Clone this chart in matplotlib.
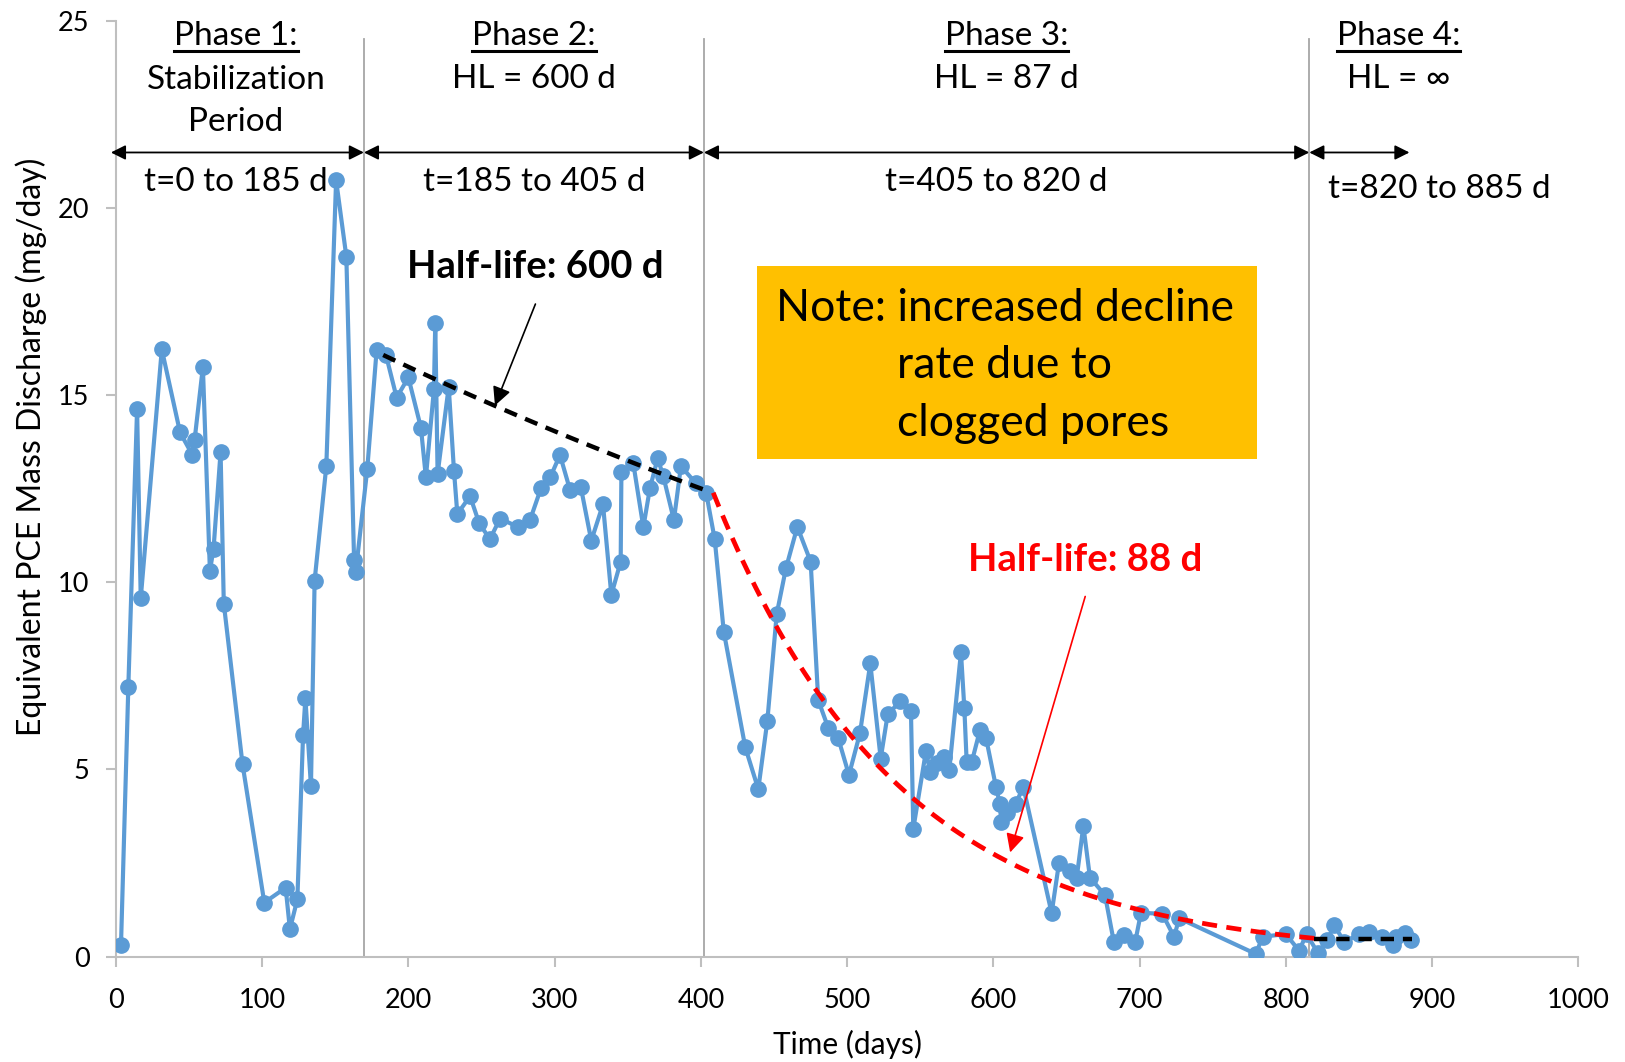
import matplotlib.pyplot as plt
import numpy as np

plt.rcParams['font.family'] = ['Lato', 'DejaVu Sans']

# measured equivalent PCE mass discharge (mg/day) vs time (days)
time_days = [3.4, 8.4, 14.4, 16.9, 31.3, 43.8, 52.1, 53.7, 59.4, 64.2, 66.7, 71.5, 73.7, 86.5,
             101.4, 116.0, 118.9, 124.0, 127.9, 129.5, 133.3, 135.8, 143.8, 150.5, 157.5, 162.8,
             163.9, 171.8, 178.2, 184.6, 191.9, 199.9, 208.5, 211.9, 217.4, 218.3, 219.9, 227.5,
             231.1, 233.4, 242.1, 248.4, 255.7, 262.6, 274.7, 283.1, 290.6, 297.0, 303.6, 310.5,
             317.8, 325.0, 333.0, 338.7, 345.1, 345.6, 353.7, 360.6, 365.1, 370.4, 374.2, 381.5,
             386.3, 396.6, 403.6, 409.4, 415.6, 430.3, 439.2, 445.4, 451.8, 458.1, 465.9, 475.0,
             480.2, 487.1, 493.9, 501.2, 508.7, 515.8, 522.9, 527.7, 536.3, 543.6, 545.2, 553.9,
             556.6, 561.2, 566.4, 569.8, 577.8, 580.1, 581.7, 585.2, 590.8, 595.0, 601.8, 604.5,
             605.2, 609.1, 615.2, 620.4, 639.8, 644.8, 652.4, 656.9, 661.5, 666.0, 676.3, 682.3,
             689.5, 697.0, 700.9, 715.5, 723.5, 727.1, 779.4, 784.1, 799.9, 809.0, 814.2, 821.8,
             828.4, 833.0, 839.8, 850.3, 856.9, 865.5, 873.1, 875.3, 881.5, 885.4]
discharge = [0.31, 7.19, 14.63, 9.57, 16.22, 14.0, 13.41, 13.79, 15.75, 10.3, 10.9, 13.48, 9.43, 5.14,
             1.44, 1.84, 0.73, 1.53, 5.91, 6.9, 4.55, 10.04, 13.1, 20.74, 18.7, 10.58,
             10.26, 13.02, 16.2, 16.07, 14.93, 15.47, 14.13, 12.8, 15.15, 16.92, 12.89, 15.22,
             12.98, 11.82, 12.3, 11.57, 11.15, 11.7, 11.48, 11.66, 12.51, 12.81, 13.4, 12.46,
             12.55, 11.11, 12.08, 9.66, 10.55, 12.94, 13.18, 11.47, 12.51, 13.31, 12.84, 11.66,
             13.1, 12.64, 12.38, 11.15, 8.68, 5.59, 4.47, 6.3, 9.15, 10.37, 11.48, 10.55,
             6.85, 6.1, 5.83, 4.85, 5.96, 7.83, 5.29, 6.47, 6.82, 6.55, 3.41, 5.5,
             4.94, 5.16, 5.34, 4.98, 8.13, 6.64, 5.2, 5.2, 6.05, 5.83, 4.52, 4.07,
             3.6, 3.83, 4.07, 4.54, 1.16, 2.49, 2.29, 2.09, 3.49, 2.11, 1.64, 0.4,
             0.57, 0.4, 1.17, 1.14, 0.53, 1.02, 0.07, 0.53, 0.6, 0.16, 0.6, 0.1,
             0.44, 0.84, 0.4, 0.59, 0.65, 0.53, 0.31, 0.53, 0.62, 0.44]

# phase boundaries (days)
phase_bounds = [169.5, 402, 816]

# fitted declines: start day, end day, start value, half-life (days)
fit_phase2 = (182.7, 406.0, 16.07, 600)
fit_phase3 = (408.4, 819.5, 12.39, 88)
fit_phase4 = (819.5, 886.0, 0.46)

# header texts
phase_titles = ['Phase 1:', 'Phase 2:', 'Phase 3:', 'Phase 4:']
phase_subs = ['Stabilization\nPeriod', 'HL = 600 d', 'HL = 87 d', 'HL = \u221e']
title_x = [82, 286, 609, 877]
phase_ranges = ['t=0 to 185 d', 't=185 to 405 d', 't=405 to 820 d', 't=820 to 885 d']
range_x = [82, 286, 602, 905]
range_y = [20.68, 20.68, 20.68, 20.51]
span_lo = [-3.5, 169.5, 402, 816]
span_hi = [169.5, 402, 816, 884.5]

fig = plt.figure(figsize=(16.25, 10.62), dpi=100)
ax = fig.add_axes([0.0714, 0.0993, 0.8999, 0.8812])

# phase divider lines
for xb in phase_bounds:
    ax.plot([xb, xb], [0, 24.5], color='#A6A6A6', lw=1.3, zorder=1)

# data
ax.plot(time_days, discharge, color='#5B9BD5', lw=3, marker='o', ms=11, zorder=3)

# trend lines
t0, t1, y0, hl = fit_phase2
tt = np.linspace(t0, t1, 100)
ax.plot(tt, y0 * 0.5 ** ((tt - t0) / hl), color='black', lw=3.2, ls=(0, (3, 2)), zorder=4)
t0, t1, y0, hl = fit_phase3
tt = np.linspace(t0, t1, 200)
ax.plot(tt, y0 * 0.5 ** ((tt - t0) / hl), color='red', lw=3.4, ls=(0, (3.2, 2)), zorder=4)
ax.plot(fit_phase4[:2], [fit_phase4[2]] * 2, color='black', lw=3.2, ls=(0, (3, 2)), zorder=4)

# half-life annotations
ax.text(286.5, 18.42, 'Half-life: 600 d', fontsize=27.5, fontweight='bold', ha='center', va='center')
ax.annotate('', xy=(258.4, 14.65), xytext=(287.5, 17.5),
            arrowprops=dict(arrowstyle='-|>', color='black', lw=1.2, mutation_scale=28))
ax.text(662.7, 10.6, 'Half-life: 88 d', fontsize=27.5, fontweight='bold', color='red',
        ha='center', va='center')
ax.annotate('', xy=(610.9, 2.71), xytext=(663.3, 9.69),
            arrowprops=dict(arrowstyle='-|>', color='red', lw=1.2, mutation_scale=28))

# note box
ax.add_patch(plt.Rectangle((438, 13.29), 342, 5.15, facecolor='#FFC000', edgecolor='none', zorder=2))
ax.text(608, 17.3, 'Note: increased decline', fontsize=32, ha='center', va='center', zorder=5)
ax.text(534.4, 15.8, 'rate due to', fontsize=32, ha='left', va='center', zorder=5)
ax.text(534.4, 14.25, 'clogged pores', fontsize=32, ha='left', va='center', zorder=5)

# phase headers
title_objs = []
for i in range(4):
    t = ax.text(title_x[i], 24.6, phase_titles[i], fontsize=24, ha='center', va='center')
    title_objs.append(t)
    ax.text(title_x[i], 23.45 if i > 0 else 22.85, phase_subs[i], fontsize=24, ha='center',
            va='center', linespacing=1.5)
    ax.annotate('', xy=(span_hi[i], 21.48), xytext=(span_lo[i], 21.48), annotation_clip=False,
                arrowprops=dict(arrowstyle='<|-|>', color='black', lw=1.3, mutation_scale=22,
                                shrinkA=0, shrinkB=0))
    ax.text(range_x[i], range_y[i], phase_ranges[i], fontsize=24, ha='center', va='center')

ax.set_xlim(0, 1000)
ax.set_ylim(0, 25)
ax.set_xticks(np.arange(0, 1001, 100))
ax.set_yticks(np.arange(0, 26, 5))
for s in ['top', 'right']:
    ax.spines[s].set_visible(False)
for s in ['left', 'bottom']:
    ax.spines[s].set_color('#BFBFBF')
    ax.spines[s].set_linewidth(1.5)
ax.tick_params(colors='#BFBFBF', labelcolor='black', length=7, width=1.5, labelsize=19.5)
ax.tick_params(axis='x', pad=16)
ax.tick_params(axis='y', pad=12)
ax.set_xlabel('Time (days)', fontsize=21.5, va='center')
ax.xaxis.set_label_coords(0.5, -0.094)
ax.set_ylabel('Equivalent PCE Mass Discharge (mg/day)', fontsize=23, va='center')
ax.yaxis.set_label_coords(-0.058, 0.545)

# underline the phase titles
fig.canvas.draw()
inv = ax.transData.inverted()
for t in title_objs:
    bb = t.get_window_extent()
    (xa, ya), (xb2, _) = inv.transform([(bb.x0, bb.y0), (bb.x1, bb.y0)])
    ax.plot([xa, xb2], [ya - 0.02, ya - 0.02], color='black', lw=2.2, clip_on=False)

fig.savefig('out.png', dpi=100)
